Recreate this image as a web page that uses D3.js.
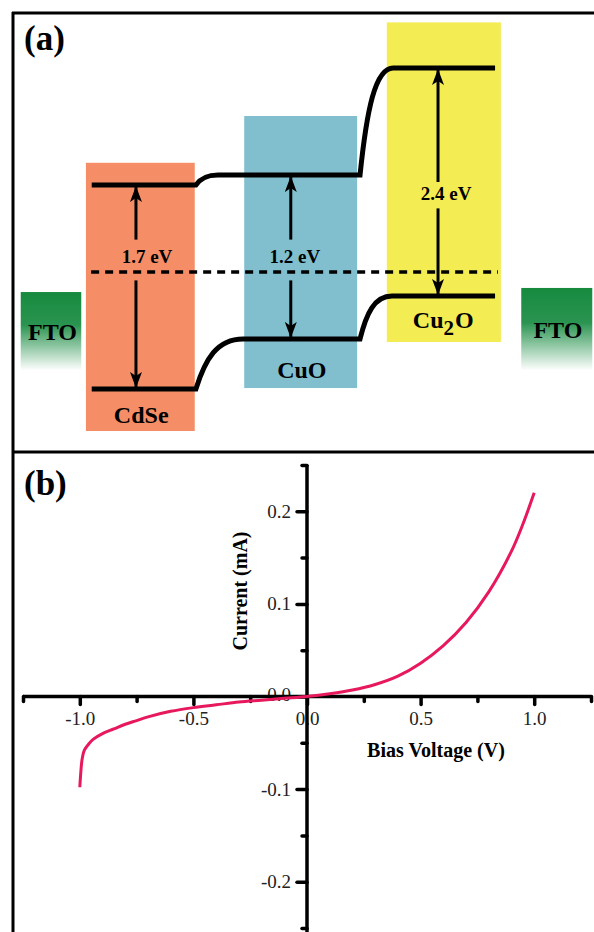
<!DOCTYPE html>
<meta charset="utf-8">
<style>
  body { margin: 0; background: #fff; }
  text { font-family: "Liberation Serif", "Times New Roman", serif; }
</style>
<svg width="594" height="932"></svg>
<script src="https://d3js.org/d3.v7.min.js"></script>
<script>

// ---- panel (a): band diagram (schematic units: x in layout %, y in eV vs Fermi level)
var materials = ["CdSe", "CuO", "Cu2O"];
var boxColors = ["#f58e66", "#81bfcf", "#f3ec52"];
var boxX0 = [12.7, 39.9, 64.4];
var boxX1 = [31.4, 59.3, 84.0];
var boxTop = [0.91, 1.30, 2.08];
var boxBottom = [-1.325, -0.967, -0.583];

var cbLevel = [0.725, 0.808, 1.70];
var vbLevel = [-0.975, -0.558, -0.20];
var bandX0 = [13.7, 35.4, 65.5];   // CB flat start
var vbX0 = [13.7, 39.7, 65.3];     // VB flat start
var bandX1 = [31.6, 59.8, 83.0];   // flat end

var gapLabels = ["1.7 eV", "1.2 eV", "2.4 eV"];
var arrowX = [21.3, 47.9, 73.2];
var labelX = [23.2, 48.6, 74.6];
var labelY = [0.075, 0.075, 0.60];
var gapTop = [0.27, 0.27, 0.75];
var gapBottom = [-0.07, -0.07, 0.53];

var nameX = [22.2, 49.8, 74.1];
var nameY = [-1.258, -0.883, -0.467];

var ftoX0 = [1.5, 87.5];
var ftoX1 = [11.9, 99.7];
var ftoTop = [-0.167, -0.133];
var ftoBottom = -0.82;
var ftoLabelX = [6.96, 93.8];
var ftoLabelY = [-0.567, -0.55];

var fermiX = [13.6, 83.5];

// ---- panel (b): I-V curve
var voltage = [-1.0, -0.995, -0.99, -0.98, -0.96, -0.94, -0.9, -0.85, -0.8, -0.75, -0.7, -0.6, -0.5,
               -0.4, -0.3, -0.2, -0.1, 0, 0.1, 0.2, 0.3, 0.4, 0.5, 0.6, 0.7, 0.8, 0.9, 0.95, 1.0];
var current = [-0.098, -0.080, -0.068, -0.058, -0.051, -0.046, -0.040, -0.035, -0.030, -0.026, -0.022, -0.016, -0.012,
               -0.009, -0.006, -0.004, -0.002, 0, 0.003, 0.007, 0.013, 0.022, 0.036, 0.055, 0.080, 0.113, 0.157, 0.186, 0.220];
var xMajor = [-1.0, -0.5, 0.0, 0.5, 1.0];
var xMinor = [-1.25, -0.75, -0.25, 0.25, 0.75, 1.25];
var yMajor = [-0.2, -0.1, 0.0, 0.1, 0.2];
var yMinor = [-0.25, -0.15, -0.05, 0.05, 0.15, 0.25];

var svg = d3.select("svg");

// frame
svg.append("g")
    .attr("stroke", "#000")
    .attr("stroke-width", 3)
  .selectAll("line")
  .data([[12, 13, 594, 13], [12, 452, 594, 452], [13, 12, 13, 932]])
  .join("line")
    .attr("x1", function(d) { return d[0]; })
    .attr("y1", function(d) { return d[1]; })
    .attr("x2", function(d) { return d[2]; })
    .attr("y2", function(d) { return d[3]; });

var defs = svg.append("defs");
var grad = defs.append("linearGradient")
    .attr("id", "fto")
    .attr("x1", 0).attr("y1", 0).attr("x2", 0).attr("y2", 1);
grad.append("stop").attr("offset", 0).attr("stop-color", "#178a3f");
grad.append("stop").attr("offset", 0.42).attr("stop-color", "#2a9450");
grad.append("stop").attr("offset", 1).attr("stop-color", "#ffffff");

defs.append("marker")
    .attr("id", "head")
    .attr("viewBox", "0 -6 16 12")
    .attr("refX", 15)
    .attr("refY", 0)
    .attr("markerUnits", "userSpaceOnUse")
    .attr("markerWidth", 16)
    .attr("markerHeight", 12)
    .attr("orient", "auto")
  .append("path")
    .attr("d", "M0,-6L16,0L0,6L4,0Z")
    .attr("fill", "#000");

var px = d3.scaleLinear().domain([0, 100]).range([12, 594]);
var ev = d3.scaleLinear().domain([-1, 2]).range([392, 32]);

var a = svg.append("g");

a.append("text")
    .attr("x", 24).attr("y", 50)
    .attr("font-size", 35).attr("font-weight", "bold")
    .text("(a)");

// FTO blocks
a.selectAll("rect.fto")
  .data(ftoX0)
  .join("rect")
    .attr("class", "fto")
    .attr("x", function(d) { return px(d); })
    .attr("y", function(d, i) { return ev(ftoTop[i]); })
    .attr("width", function(d, i) { return px(ftoX1[i]) - px(d); })
    .attr("height", function(d, i) { return ev(ftoBottom) - ev(ftoTop[i]); })
    .attr("fill", "url(#fto)");

a.selectAll("text.fto")
  .data(ftoLabelX)
  .join("text")
    .attr("class", "fto")
    .attr("x", function(d) { return px(d); })
    .attr("y", function(d, i) { return ev(ftoLabelY[i]); })
    .attr("text-anchor", "middle")
    .attr("font-size", 24).attr("font-weight", "bold")
    .text("FTO");

// semiconductor boxes
a.selectAll("rect.box")
  .data(materials)
  .join("rect")
    .attr("class", "box")
    .attr("x", function(d, i) { return px(boxX0[i]); })
    .attr("y", function(d, i) { return ev(boxTop[i]); })
    .attr("width", function(d, i) { return px(boxX1[i]) - px(boxX0[i]); })
    .attr("height", function(d, i) { return ev(boxBottom[i]) - ev(boxTop[i]); })
    .attr("fill", function(d, i) { return boxColors[i]; });

// Fermi level
a.append("line")
    .attr("x1", px(fermiX[0])).attr("x2", px(fermiX[1]))
    .attr("y1", ev(0)).attr("y2", ev(0))
    .attr("stroke", "#000").attr("stroke-width", 3.5)
    .attr("stroke-dasharray", "8,6");

// band edges
function bandPath(levels, starts) {
  var p = d3.path();
  p.moveTo(px(starts[0]), ev(levels[0]));
  for (var i = 0; i < levels.length; i++) {
    p.lineTo(px(bandX1[i]), ev(levels[i]));
    if (i < levels.length - 1) {
      var x0 = px(bandX1[i]), y0 = ev(levels[i]),
          x1 = px(starts[i + 1]), y1 = ev(levels[i + 1]);
      p.bezierCurveTo(x0 + (x1 - x0) * 0.2, y0 + (y1 - y0) * 0.6,
                      x1 - (x1 - x0) * 0.55, y1, x1, y1);
    }
  }
  return p.toString();
}

a.selectAll("path.band")
  .data([[cbLevel, bandX0], [vbLevel, vbX0]])
  .join("path")
    .attr("class", "band")
    .attr("d", function(d) { return bandPath(d[0], d[1]); })
    .attr("fill", "none")
    .attr("stroke", "#000")
    .attr("stroke-width", 5);

// gap arrows
var arrows = [];
materials.forEach(function(m, i) {
  arrows.push({x: arrowX[i], from: gapTop[i], to: cbLevel[i]});
  arrows.push({x: arrowX[i], from: gapBottom[i], to: vbLevel[i]});
});
a.selectAll("line.arrow")
  .data(arrows)
  .join("line")
    .attr("class", "arrow")
    .attr("x1", function(d) { return px(d.x); })
    .attr("x2", function(d) { return px(d.x); })
    .attr("y1", function(d) { return ev(d.from); })
    .attr("y2", function(d) { return ev(d.to) + (d.to > d.from ? 2 : -2); })
    .attr("stroke", "#000").attr("stroke-width", 3)
    .attr("marker-end", "url(#head)");

a.selectAll("text.gap")
  .data(gapLabels)
  .join("text")
    .attr("class", "gap")
    .attr("x", function(d, i) { return px(labelX[i]); })
    .attr("y", function(d, i) { return ev(labelY[i]); })
    .attr("text-anchor", "middle")
    .attr("font-size", 19).attr("font-weight", "bold")
    .text(function(d) { return d; });

// material names
var names = a.selectAll("text.name")
  .data(materials)
  .join("text")
    .attr("class", "name")
    .attr("x", function(d, i) { return px(nameX[i]); })
    .attr("y", function(d, i) { return ev(nameY[i]); })
    .attr("text-anchor", "middle")
    .attr("font-size", 24).attr("font-weight", "bold");
names.each(function(d) {
  var t = d3.select(this);
  if (d === "Cu2O") {
    t.append("tspan").text("Cu");
    t.append("tspan").attr("dy", 7).attr("font-size", 21).text("2");
    t.append("tspan").attr("dy", -7).attr("dx", 1).text("O");
  } else {
    t.text(d);
  }
});

// ---- panel (b)
var x = d3.scaleLinear().domain([-1.25, 1.25]).range([23, 591]);
var y = d3.scaleLinear().domain([-0.25, 0.25]).range([928, 465]);
var fmt = function(d) { return d3.format(".1f")(d).replace("\u2212", "-"); };

var b = svg.append("g");

b.append("text")
    .attr("x", 24).attr("y", 495)
    .attr("font-size", 35).attr("font-weight", "bold")
    .text("(b)");

var yAxis = b.append("g")
    .attr("transform", "translate(" + x(0) + ",0)")
    .call(d3.axisLeft(y).tickValues(yMajor).tickSize(10).tickSizeOuter(0).tickPadding(6)
      .tickFormat(fmt));
yAxis.selectAll(".tick")
  .filter(function(d) { return d === 0; })
  .select("text").attr("dy", "0.2em");
b.append("g")
    .attr("transform", "translate(" + x(0) + ",0)")
    .call(d3.axisLeft(y).tickValues(yMinor).tickSize(5).tickSizeOuter(0).tickFormat(""))
    .select(".domain").remove();

var xAxis = b.append("g")
    .attr("transform", "translate(0," + y(0) + ")")
    .call(d3.axisBottom(x).tickValues(xMajor).tickSize(8).tickSizeOuter(0).tickPadding(7)
      .tickFormat(fmt));
b.append("g")
    .attr("transform", "translate(0," + y(0) + ")")
    .call(d3.axisBottom(x).tickValues(xMinor).tickSize(5).tickSizeOuter(0).tickFormat(""))
    .select(".domain").remove();

yAxis.select(".domain").remove();
xAxis.select(".domain").remove();
b.append("line")
    .attr("x1", x(0)).attr("x2", x(0))
    .attr("y1", y(0.25)).attr("y2", 932)
    .attr("stroke", "#000").attr("stroke-width", 3.5);
b.append("line")
    .attr("x1", x(-1.25)).attr("x2", x(1.25))
    .attr("y1", y(0)).attr("y2", y(0))
    .attr("stroke", "#000").attr("stroke-width", 3.5);

b.selectAll(".tick line")
    .attr("stroke-width", 3.5)
    .attr("stroke-linecap", "round");
b.selectAll(".tick text")
    .attr("font-family", "Liberation Serif, serif")
    .attr("font-size", 19)
    .attr("fill", "#222");

var line = d3.line()
    .curve(d3.curveCatmullRom)
    .x(function(d, i) { return x(voltage[i]); })
    .y(function(d) { return y(d); });

b.append("path")
    .datum(current)
    .attr("fill", "none")
    .attr("stroke", "#e8185c")
    .attr("stroke-width", 3)
    .attr("d", line);

b.append("text")
    .attr("x", 436).attr("y", 757)
    .attr("text-anchor", "middle")
    .attr("font-size", 20).attr("font-weight", "bold")
    .text("Bias Voltage (V)");

b.append("text")
    .attr("transform", "translate(247,591) rotate(-90)")
    .attr("text-anchor", "middle")
    .attr("font-size", 20).attr("font-weight", "bold")
    .text("Current (mA)");

</script>
